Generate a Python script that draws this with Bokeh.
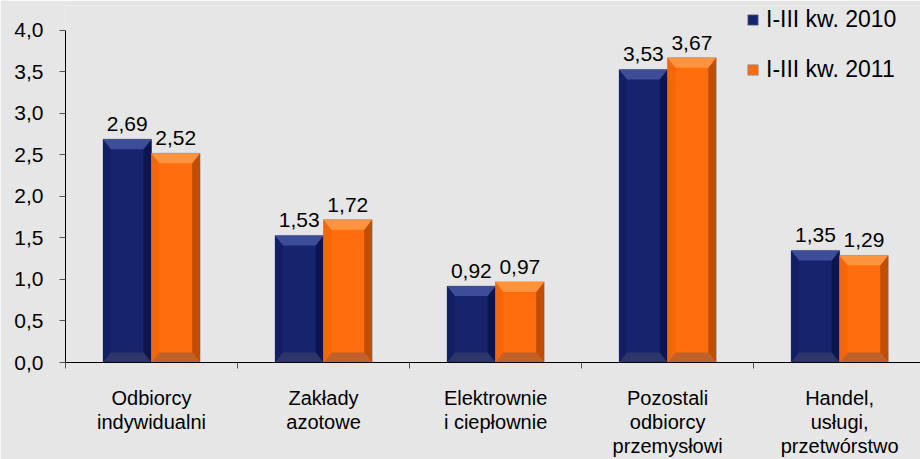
from bokeh.plotting import figure
from bokeh.models import Range1d, FixedTicker, Legend, LegendItem, ColumnDataSource
from bokeh.embed import file_html
from bokeh.resources import INLINE

categories = ["Odbiorcy\nindywidualni", "Zakłady\nazotowe", "Elektrownie\ni ciepłownie",
              "Pozostali\nodbiorcy\nprzemysłowi", "Handel,\nusługi,\nprzetwórstwo"]
series_names = ["I-III kw. 2010", "I-III kw. 2011"]
values_2010 = [2.69, 1.53, 0.92, 3.53, 1.35]
values_2011 = [2.52, 1.72, 0.97, 3.67, 1.29]
y_ticks = [0.0, 0.5, 1.0, 1.5, 2.0, 2.5, 3.0, 3.5, 4.0]

FONT = "Liberation Sans"
BG = "#e6e6e6"

p = figure(width=920, height=459, output_backend="svg", toolbar_location=None,
           x_range=Range1d(0, 4.97), y_range=Range1d(0, 4.30),
           min_border_left=65, min_border_right=0, min_border_top=5, min_border_bottom=95)
p.background_fill_color = BG
p.border_fill_color = BG
p.outline_line_color = None
p.xgrid.grid_line_color = None
p.ygrid.grid_line_color = None

centers = [i + 0.5 for i in range(len(categories))]
w = 0.282
sw = 0.046   # side bevel width (x units)
d = 0.12     # top/bottom bevel depth (y units)

styles = [
    dict(main="#16246e", top="#3d4d98", right="#0b1650", left="#121f64", bottom="#2c3668"),
    dict(main="#ff6c0c", top="#ff9440", right="#c04f04", left="#f56608", bottom="#c0602a"),
]

mains = []
for k, vals in enumerate([values_2010, values_2011]):
    st = styles[k]
    xs = [c + (k - 0.5) * w for c in centers]
    src = ColumnDataSource(dict(x=xs, top=vals))
    r = p.vbar(x="x", top="top", width=w, bottom=0, source=src,
               fill_color=st["main"], line_color="#7d8296", line_width=1, line_alpha=0.6)
    mains.append(r)
    tx, ty, rx, ry, lx, ly, bx, by = [], [], [], [], [], [], [], []
    for x, v in zip(xs, vals):
        l, rr = x - w / 2, x + w / 2
        tx.append([l, rr, rr - sw, l + sw]); ty.append([v, v, v - d, v - d])
        rx.append([rr, rr, rr - sw, rr - sw]); ry.append([v, 0, d, v - d])
        lx.append([l, l, l + sw, l + sw]); ly.append([v, 0, d, v - d])
        bx.append([l, rr, rr - sw, l + sw]); by.append([0, 0, d, d])
    p.patches(lx, ly, fill_color=st["left"], line_color=None)
    p.patches(rx, ry, fill_color=st["right"], line_color=None)
    p.patches(tx, ty, fill_color=st["top"], line_color=None)
    p.patches(bx, by, fill_color=st["bottom"], line_color=None)
    labels = [f"{v:.2f}".replace(".", ",") for v in vals]
    p.text(x=xs, y=vals, text=labels, y_offset=-15, text_align="center",
           text_baseline="alphabetic", text_font_size="21px", text_color="#000000",
           text_font={"value": FONT})

# axes
xa = p.xaxis[0]
xa.ticker = FixedTicker(ticks=centers, minor_ticks=[float(i) for i in range(6)])
xa.major_label_overrides = {c: lab for c, lab in zip(centers, categories)}
xa.major_tick_line_color = None
xa.minor_tick_in = 0
xa.minor_tick_out = 6
xa.minor_tick_line_color = "#555555"
xa.axis_line_color = "#000000"
xa.major_label_text_font = FONT
xa.major_label_text_font_size = "20px"
xa.major_label_text_color = "#000000"
xa.major_label_standoff = 18
xa.major_label_text_line_height = 1.1

ya = p.yaxis[0]
ya.bounds = (0, 4)
ya.ticker = FixedTicker(ticks=y_ticks, minor_ticks=[])
ya.major_label_overrides = {t: f"{t:.1f}".replace(".", ",") for t in y_ticks}
ya.major_tick_in = 0
ya.major_tick_out = 6
ya.major_tick_line_color = "#555555"
ya.axis_line_color = "#000000"
ya.major_label_text_font = FONT
ya.major_label_text_font_size = "21px"
ya.major_label_text_color = "#000000"
ya.major_label_standoff = 16

legend = Legend(items=[LegendItem(label=series_names[0], renderers=[mains[0]]),
                       LegendItem(label=series_names[1], renderers=[mains[1]])],
                location=(681, 279))
legend.background_fill_alpha = 0
legend.border_line_color = None
legend.padding = 0
legend.margin = 0
legend.glyph_width = 13
legend.glyph_height = 13
legend.label_height = 26
legend.spacing = 23
legend.label_standoff = 7
legend.label_text_font = FONT
legend.label_text_font_size = "23px"
legend.label_text_color = "#000000"
p.add_layout(legend)

open("out.html", "w").write(file_html(p, INLINE))
